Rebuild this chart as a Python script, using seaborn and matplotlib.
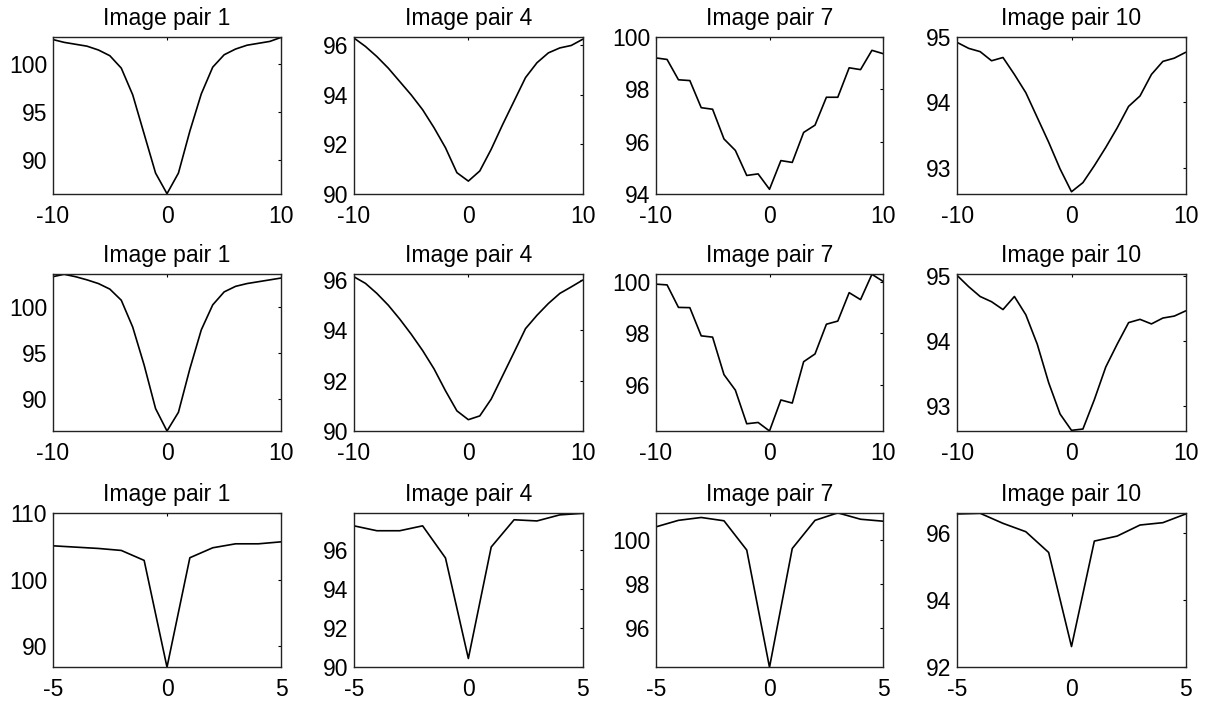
import numpy as np
import pandas as pd
import matplotlib
matplotlib.use("Agg")
import matplotlib.pyplot as plt
import seaborn as sns

# ---- data ----
offsets_wide = list(range(-10, 11))
offsets_narrow = list(range(-5, 6))
pair_titles = ["Image pair 1", "Image pair 4", "Image pair 7", "Image pair 10"]

row1_pair1 = [102.6, 102.3, 102.1, 101.9, 101.5, 100.9, 99.6, 96.8, 92.7, 88.6, 86.44,
              88.6, 93.0, 96.9, 99.7, 101.0, 101.6, 102.0, 102.2, 102.4, 102.83]
row1_pair4 = [96.3, 95.96, 95.55, 95.08, 94.54, 94.0, 93.4, 92.67, 91.86, 90.85, 90.51,
              90.92, 91.8, 92.8, 93.75, 94.7, 95.3, 95.7, 95.9, 96.0, 96.25]
row1_pair7 = [99.21, 99.15, 98.37, 98.34, 97.3, 97.24, 96.1, 95.66, 94.7, 94.76, 94.17,
              95.27, 95.2, 96.35, 96.63, 97.7, 97.7, 98.83, 98.76, 99.5, 99.37]
row1_pair10 = [94.92, 94.83, 94.78, 94.64, 94.69, 94.43, 94.15, 93.77, 93.39, 92.98, 92.63,
               92.77, 93.03, 93.31, 93.61, 93.94, 94.1, 94.43, 94.63, 94.68, 94.77]

row2_pair1 = [103.24, 103.5, 103.24, 102.9, 102.5, 101.9, 100.7, 97.8, 93.7, 89.0, 86.58,
              88.6, 93.3, 97.5, 100.2, 101.6, 102.2, 102.5, 102.7, 102.9, 103.1]
row2_pair4 = [96.13, 95.87, 95.47, 95.0, 94.45, 93.85, 93.2, 92.47, 91.6, 90.8, 90.45,
              90.6, 91.27, 92.2, 93.13, 94.07, 94.6, 95.07, 95.47, 95.73, 96.0]
row2_pair7 = [99.9, 99.87, 99.0, 98.99, 97.9, 97.85, 96.4, 95.8, 94.5, 94.55, 94.22,
              95.42, 95.3, 96.9, 97.2, 98.35, 98.47, 99.57, 99.3, 100.28, 100.0]
row2_pair10 = [95.0, 94.83, 94.68, 94.6, 94.48, 94.68, 94.4, 93.95, 93.36, 92.88, 92.63,
               92.65, 93.1, 93.6, 93.95, 94.28, 94.33, 94.26, 94.35, 94.38, 94.46]

row3_pair1 = [105.1, 104.9, 104.7, 104.4, 102.9, 86.8, 103.3, 104.8, 105.4, 105.4, 105.7]
row3_pair4 = [97.22, 96.97, 96.97, 97.22, 95.58, 90.45, 96.14, 97.53, 97.47, 97.78, 97.86]
row3_pair7 = [100.6, 100.9, 101.03, 100.88, 99.55, 94.22, 99.62, 100.9, 101.24, 100.95, 100.86]
row3_pair10 = [96.58, 96.6, 96.3, 96.05, 95.43, 92.62, 95.77, 95.92, 96.25, 96.32, 96.58]

rows_values = [
    [row1_pair1, row1_pair4, row1_pair7, row1_pair10],
    [row2_pair1, row2_pair4, row2_pair7, row2_pair10],
    [row3_pair1, row3_pair4, row3_pair7, row3_pair10],
]
rows_offsets = [offsets_wide, offsets_wide, offsets_narrow]
rows_xticks = [[-10, 0, 10], [-10, 0, 10], [-5, 0, 5]]
rows_yticks = [
    [[90, 95, 100], [90, 92, 94, 96], [94, 96, 98, 100], [93, 94, 95]],
    [[90, 95, 100], [90, 92, 94, 96], [96, 98, 100], [93, 94, 95]],
    [[90, 100, 110], [90, 92, 94, 96], [96, 98, 100], [92, 94, 96]],
]
rows_ylims = [
    [(86.44, 102.83), (90.0, 96.33), (94.0, 100.0), (92.6, 95.0)],
    [(86.58, 103.5), (90.0, 96.23), (94.22, 100.28), (92.62, 95.02)],
    [(86.78, 110.0), (90.0, 97.86), (94.22, 101.22), (92.0, 96.6)],
]

# ---- style ----
sns.set_style("white")
plt.rcParams["font.family"] = ["Liberation Sans", "DejaVu Sans"]
plt.rcParams["axes.unicode_minus"] = False
plt.rcParams["text.color"] = "black"
plt.rcParams["axes.titlecolor"] = "black"

fig = plt.figure(figsize=(12.05, 7.07), dpi=100)
W, H = 1205.0, 707.0
col_px = [(52.7, 281.3), (354.0, 582.7), (655.7, 883.3), (957.3, 1185.7)]
row_px = [(37.3, 193.7), (274.3, 431.0), (513.3, 667.3)]

for r in range(3):
    for c in range(4):
        x0, x1 = col_px[c]
        y0, y1 = row_px[r]
        ax = fig.add_axes([x0 / W, 1 - y1 / H, (x1 - x0) / W, (y1 - y0) / H])
        df = pd.DataFrame({"offset": rows_offsets[r], "value": rows_values[r][c]})
        sns.lineplot(data=df, x="offset", y="value", ax=ax, color="black",
                     linewidth=1.2, estimator=None)
        ax.set_xlim(rows_offsets[r][0], rows_offsets[r][-1])
        ax.set_ylim(*rows_ylims[r][c])
        ax.set_xticks(rows_xticks[r])
        ax.set_yticks(rows_yticks[r][c])
        ax.set_xlabel("")
        ax.set_ylabel("")
        ax.set_title(pair_titles[c], fontsize=16.5, pad=8.5, color="black")
        ax.tick_params(direction="in", top=True, right=True, length=2,
                       width=0.8, labelsize=16.5, colors="black")
        ax.tick_params(axis="x", pad=8)
        ax.tick_params(axis="y", pad=4)
        for s in ax.spines.values():
            s.set_visible(True)
            s.set_color("#222222")
            s.set_linewidth(1.0)

fig.savefig("out.png", dpi=100, facecolor="white")
